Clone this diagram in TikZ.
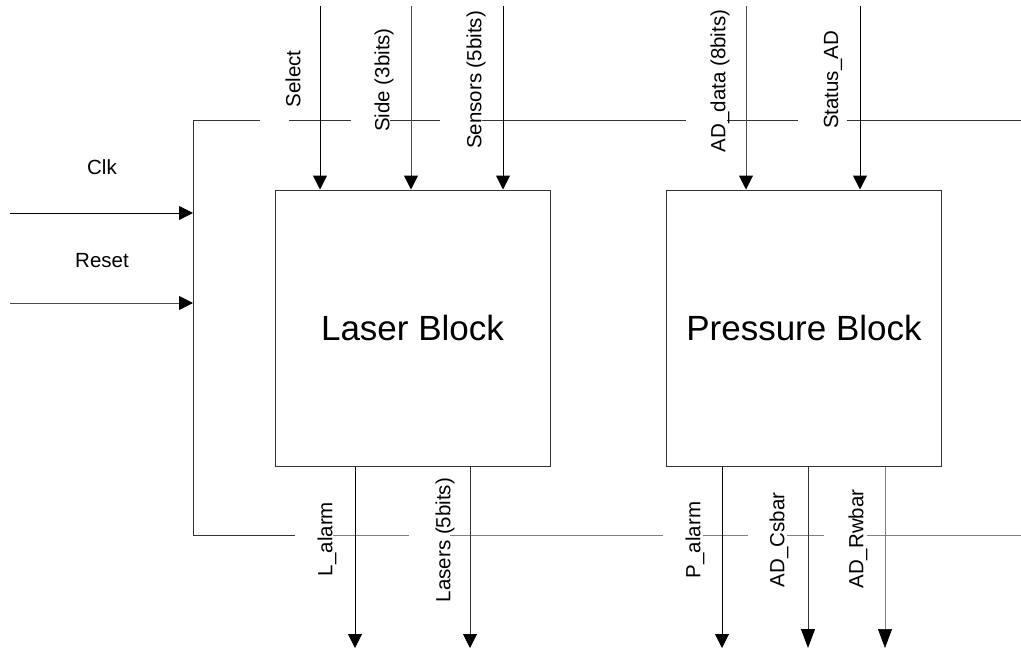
\documentclass[tikz,border=0pt]{standalone}
\usepackage{fontspec}
\setmainfont{Liberation Sans}
\usetikzlibrary{arrows.meta}

\begin{document}
\begin{tikzpicture}[
    x=1pt, y=-1pt,
    block/.style={rectangle, draw=black!80, line width=1pt, minimum width=275pt,
                  minimum height=276pt, inner sep=0pt,
                  font=\fontsize{35}{42}\selectfont},
    sig/.style={line width=1pt, -{Triangle[length=14pt,width=14pt,fill=black,color=black]}},
    bigsig/.style={line width=1pt, -{Triangle[length=19pt,width=14pt,fill=black,color=black]}},
    lbl/.style={inner sep=0pt, font=\fontsize{20.5}{24}\selectfont},
    vlbl/.style={lbl, rotate=90},
    bus/.style={line width=1pt, black!80},
  ]
    \useasboundingbox (0,0) rectangle (1021,653);

    % blocks
    \node[block] (laser)    at (412.5,328) {Laser Block};
    \node[block] (pressure) at (804,328)   {Pressure Block};

    % clock and reset bus
    \coordinate (bustop) at (193,120);
    \coordinate (busbot) at (193,535);
    \draw[bus] (bustop) -- (260,120);
    \draw[bus] (289,120) -- (351,120);
    \draw[bus] (390,120) -- (440,120);
    \draw[bus] (482,120) -- (686,120);
    \draw[bus] (727,120) -- (798,120);
    \draw[bus] (847,120) -- (1021,120);
    \draw[bus] (bustop) -- (busbot) -- (295,535);
    \draw[bus, gray] (333,535) -- (409,535);
    \draw[bus, gray] (450,535) -- (663,535);
    \draw[bus, gray] (703,535) -- (748,535);
    \draw[bus, gray] (787,535) -- (824,535);
    \draw[bus, gray] (867,535) -- (1021,535);

    \coordinate (clkin)   at (10,213);
    \coordinate (resetin) at (10,303);
    \draw[sig] (clkin)   -- (clkin -| bustop);
    \draw[sig, black!70] (resetin) -- (resetin -| bustop);
    \node[lbl] (clk)   at (102,167) {Clk};
    \node[lbl] (reset) at (102,261) {Reset};

    % laser inputs
    \coordinate (selin)  at (320,6);
    \coordinate (sidein) at (411,6);
    \coordinate (senin)  at (503,6);
    \draw[sig] (selin)  -- (selin |- laser.north);
    \draw[sig, black!70] (sidein) -- (sidein |- laser.north);
    \draw[sig] (senin)  -- (senin |- laser.north);
    \node[vlbl] (sel)  at (293,79) {Select};
    \node[vlbl] (side) at (384,80) {Side (3bits)};
    \node[vlbl] (sen)  at (476,80) {Sensors (5bits)};

    % pressure inputs
    \coordinate (adin)   at (746,6);
    \coordinate (statin) at (860,6);
    \draw[sig, black!70] (adin)   -- (adin |- pressure.north);
    \draw[sig] (statin) -- (statin |- pressure.north);
    \node[vlbl] (addata) at (720,81) {AD\_data (8bits)};
    \node[vlbl] (status) at (833,80) {Status\_AD};

    % laser outputs
    \coordinate (lalout) at (355,648);
    \coordinate (lasout) at (470,648);
    \draw[sig] (laser.south -| lalout) -- (lalout);
    \draw[sig, black!80] (laser.south -| lasout) -- (lasout);
    \node[vlbl] (lal) at (327,539) {L\_alarm};
    \node[vlbl] (las) at (445,540) {Lasers (5bits)};

    % pressure outputs
    \coordinate (palout) at (722,648);
    \coordinate (csout)  at (808,648);
    \coordinate (rwout)  at (885,648);
    \draw[sig] (pressure.south -| palout) -- (palout);
    \draw[bigsig, black!80] (pressure.south -| csout) -- (csout);
    \draw[bigsig, gray, line width=0.7pt] (pressure.south -| rwout) -- (rwout);
    \node[vlbl] (pal) at (695,540) {P\_alarm};
    \node[vlbl] (cs)  at (779,540) {AD\_Csbar};
    \node[vlbl] (rw)  at (858,539) {AD\_Rwbar};
  \end{tikzpicture}
\end{document}
